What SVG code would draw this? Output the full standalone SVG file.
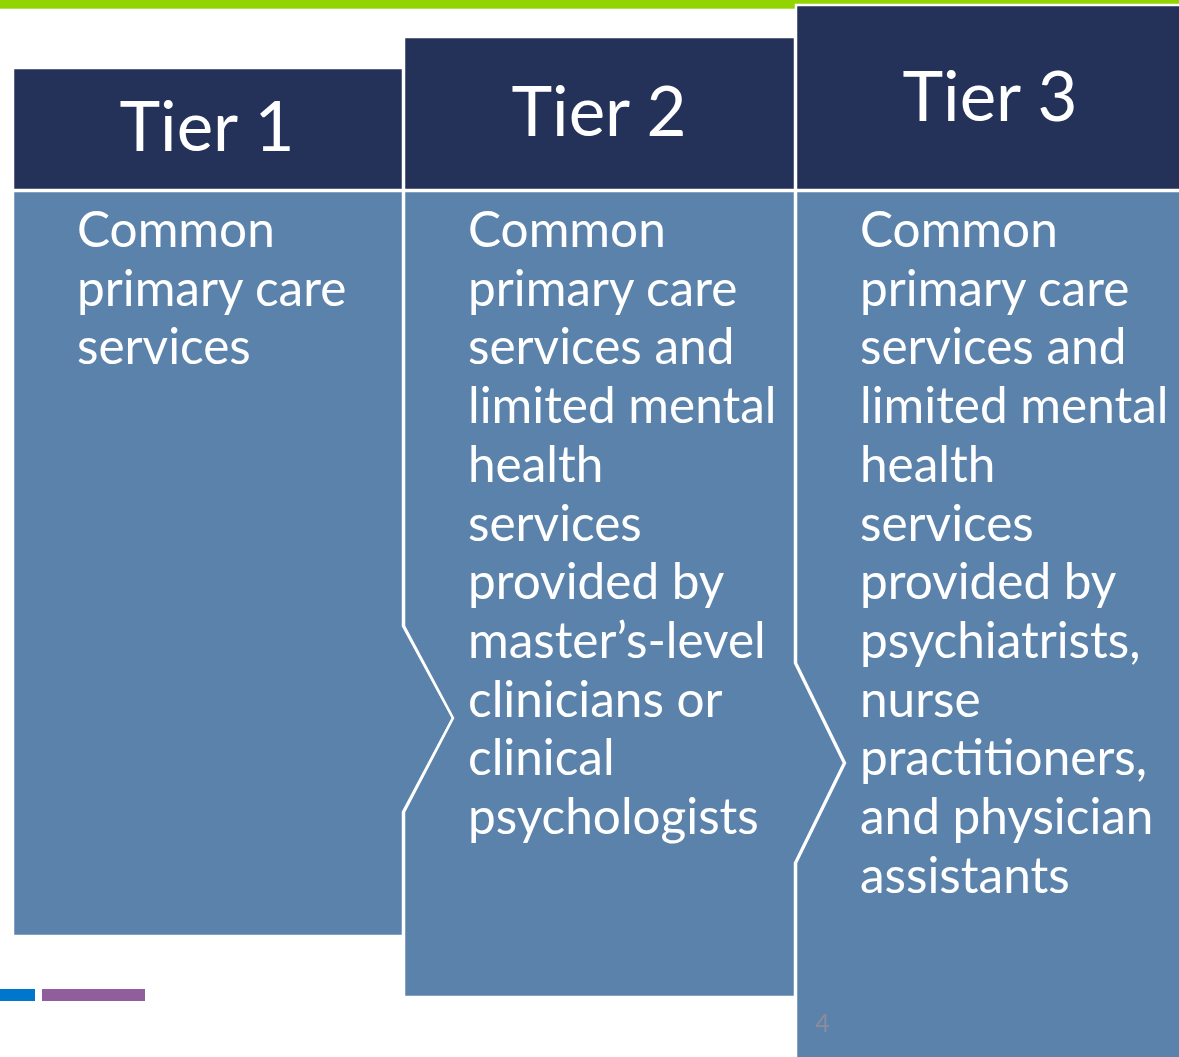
<svg xmlns="http://www.w3.org/2000/svg" width="1179" height="1057" viewBox="0 0 1179 1057">
<style>
.hdr{fill:#24325a;stroke:#ffffff;stroke-width:2.5}
.body{fill:#5a82ab;stroke:#ffffff;stroke-width:2.5;stroke-linejoin:miter}
.ht{font-family:Lato,"Liberation Sans",sans-serif;font-size:69px;fill:#ffffff;text-anchor:middle}
.bt{font-family:Lato,"Liberation Sans",sans-serif;font-size:49.5px;fill:#ffffff}
</style>
<rect x="0" y="0" width="1179" height="1057" fill="#ffffff"/>
<rect id="topbar" x="0" y="0" width="1179" height="8.7" fill="#92d400"/>
<rect x="0" y="989" width="35" height="12" fill="#0077cc"/>
<rect x="42" y="989" width="103" height="12" fill="#905e9c"/>
<g id="connectors"></g>
<g id="tier1">
  <polygon class="body" points="13,191 403,191 403,626 453,718 403,812 403,936 13,936"/>
  <rect class="hdr" x="13" y="68" width="390" height="122"/>
  <text class="ht" x="207" y="151">Tier 1</text>
  <text class="bt" x="77" y="247">Common</text>
  <text class="bt" x="77" y="305.7">primary care</text>
  <text class="bt" x="77" y="364.4">services</text>
</g>
<g id="tier2">
  <polygon class="body" points="404,191 795,191 795,663 844,763 795,863 795,997 404,997 404,812 453,718 404,626"/>
  <rect class="hdr" x="404" y="37" width="391" height="153"/>
  <text class="ht" x="599" y="136">Tier 2</text>
  <text class="bt" x="468" y="247">Common</text>
  <text class="bt" x="468" y="305.7">primary care</text>
  <text class="bt" x="468" y="364.4">services and</text>
  <text class="bt" x="468" y="423.1">limited mental</text>
  <text class="bt" x="468" y="481.8">health</text>
  <text class="bt" x="468" y="540.5">services</text>
  <text class="bt" x="468" y="599.2">provided by</text>
  <text class="bt" x="468" y="657.9">master’s-level</text>
  <text class="bt" x="468" y="716.6">clinicians or</text>
  <text class="bt" x="468" y="775.3">clinical</text>
  <text class="bt" x="468" y="834">psychologists</text>
</g>
<g id="tier3">
  <polygon class="body" points="796,191 1182,191 1182,1060 796,1060 796,863 845,763 796,663"/>
  <rect class="hdr" x="796" y="5" width="386" height="185"/>
  <text class="ht" x="990" y="121">Tier 3</text>
  <text class="bt" x="860" y="247">Common</text>
  <text class="bt" x="860" y="305.7">primary care</text>
  <text class="bt" x="860" y="364.4">services and</text>
  <text class="bt" x="860" y="423.1">limited mental</text>
  <text class="bt" x="860" y="481.8">health</text>
  <text class="bt" x="860" y="540.5">services</text>
  <text class="bt" x="860" y="599.2">provided by</text>
  <text class="bt" x="860" y="657.9">psychiatrists,</text>
  <text class="bt" x="860" y="716.6">nurse</text>
  <text class="bt" x="860" y="775.3">practitioners,</text>
  <text class="bt" x="860" y="834">and physician</text>
  <text class="bt" x="860" y="892.7">assistants</text>
</g>
<text id="pagenum" x="815" y="1032" font-family="Lato,'Liberation Sans',sans-serif" font-size="25px" fill="#8a8c9c">4</text>
</svg>
